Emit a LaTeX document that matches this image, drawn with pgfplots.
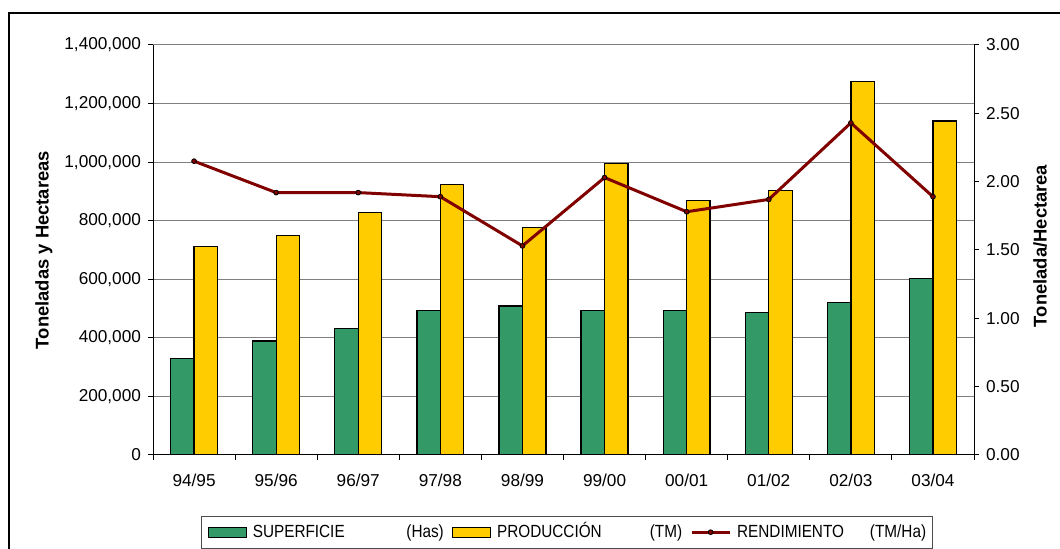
\documentclass[border=0pt]{standalone}
\usepackage{fontspec}
\setmainfont{Liberation Sans}
\usepackage{graphicx}
\usepackage{pgfplots}
\pgfplotsset{compat=1.18}
\definecolor{supgreen}{HTML}{339966}
\definecolor{prodyellow}{HTML}{FFCC00}
\definecolor{rendred}{HTML}{800000}
\newcommand{\narrow}[1]{\scalebox{0.87}[1]{#1}}
\pgfplotsset{
  barleg/.style={legend image code/.code={\draw[##1] (0pt,-2.5pt) rectangle (19pt,2.5pt);}},
  lineleg/.style={legend image code/.code={\draw[mark repeat=2, mark phase=2, ##1]
    plot coordinates {(0pt,0pt) (9.5pt,0pt) (19pt,0pt)};}},
}
\begin{document}
\begin{tikzpicture}
% 1 px of the reference = 0.5pt
\pgfplotsset{
  base/.style={
    scale only axis, width=410.5pt, height=205pt,
    at={(76.5pt,47pt)}, anchor=south west,
    xmin=-0.5, xmax=9.5, ymin=0,
    tick align=outside, major tick length=2.5pt,
    tick style={black, line width=0.5pt},
    axis line style={black, line width=0.5pt, -},
    tick label style={font=\fontsize{8.6}{10}\selectfont},
    label style={font=\fontsize{9.2}{11}\selectfont\bfseries},
    /pgf/number format/assume math mode=true,
  },
  rend/.style={rendred, line width=1.5pt, mark=*, mark size=1.2pt,
    mark options={fill=rendred, draw=black, line width=0.4pt}},
}
\begin{axis}[base,
  ymax=1400000,
  axis y line*=left, axis x line*=bottom,
  ytick={0,200000,...,1400000},
  ymajorgrids, grid style={black!50, line width=0.5pt},
  scaled y ticks=false,
  yticklabel style={/pgf/number format/.cd, fixed, precision=0, 1000 sep={,}},
  xtick={-0.5,0.5,...,9.5},
  xticklabels={94/95,95/96,96/97,97/98,98/99,99/00,00/01,01/02,02/03,03/04},
  x tick label as interval,
  xticklabel style={yshift=-3.5pt},
  ylabel={Toneladas y Hectareas},
  ylabel style={at={(-0.1328,0.5)}, anchor=center},
  legend columns=3,
  legend style={at={(0.0585,-0.1476)}, anchor=north west,
    draw=black!70, line width=0.5pt, inner xsep=3pt, inner ysep=4.2pt,
    font=\fontsize{8.8}{10}\selectfont,
    nodes={inner sep=0pt, text height=6.3pt, text depth=1.5pt},
    cells={anchor=west},
    /tikz/every odd column/.style={column sep=3pt},
    /tikz/every even column/.style={column sep=4pt}},
]
\addplot[ybar, bar width=0.286, bar shift=-0.143, fill=supgreen, draw=black, line width=0.65pt, barleg]
  coordinates {(0,330000) (1,389000) (2,433000) (3,493000) (4,509000)
               (5,493000) (6,493000) (7,487000) (8,520000) (9,603000)};
\addlegendentry{\makebox[95.5pt][l]{\narrow{SUPERFICIE}\hfill\narrow{(Has)}}}
\addplot[ybar, bar width=0.286, bar shift=0.143, fill=prodyellow, draw=black, line width=0.65pt, barleg]
  coordinates {(0,711000) (1,749000) (2,828000) (3,924000) (4,776000)
               (5,996000) (6,870000) (7,903000) (8,1275000) (9,1140000)};
\addlegendentry{\makebox[92.5pt][l]{\narrow{PRODUCCIÓN}\hfill\narrow{(TM)}}}
\addlegendimage{rend, lineleg}
\addlegendentry{\makebox[94.5pt][l]{\narrow{RENDIMIENTO}\hfill\narrow{(TM/Ha)}}}
\end{axis}
\begin{axis}[base,
  ymax=3,
  axis y line*=right, axis x line=none,
  ytick={0,0.5,...,3},
  yticklabel style={/pgf/number format/.cd, fixed, fixed zerofill, precision=2},
  ylabel={Tonelada/Hectarea},
  ylabel style={at={(1.0804,0.51)}, anchor=center},
]
\addplot[rend] coordinates {(0,2.15) (1,1.92) (2,1.92) (3,1.89) (4,1.53)
                            (5,2.03) (6,1.78) (7,1.87) (8,2.43) (9,1.89)};
\end{axis}
\draw[line width=0.7pt] (4.5pt,-10pt) rectangle (540pt,268pt);
\pgfresetboundingbox
\path[use as bounding box] (0pt,0pt) rectangle (530pt,274.5pt);
\end{tikzpicture}
\end{document}
